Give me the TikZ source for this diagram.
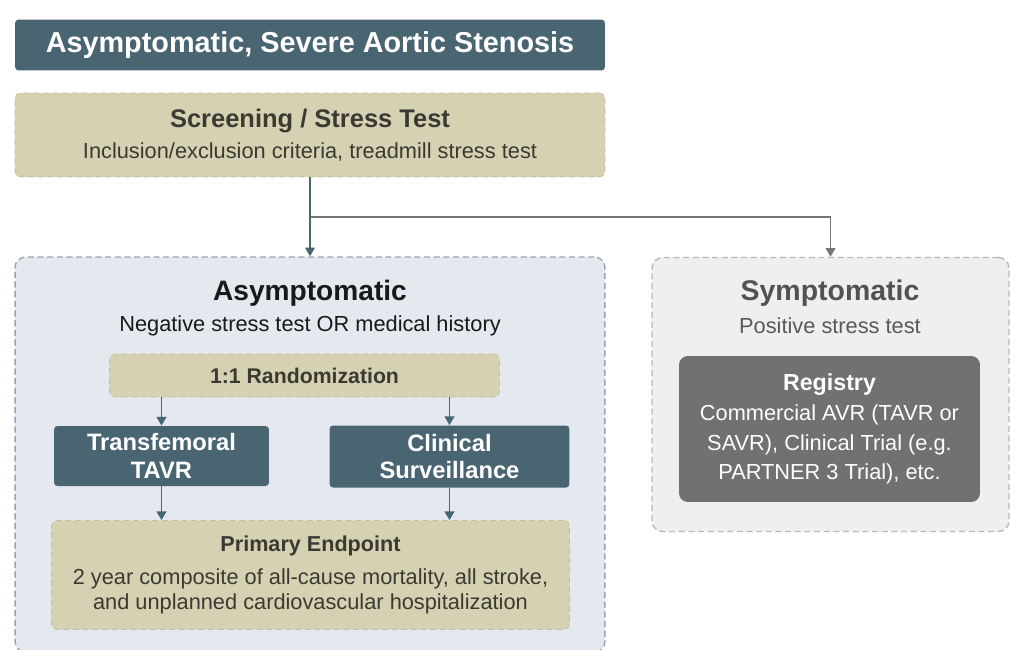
\documentclass[tikz,border=0pt]{standalone}
\usepackage{fontspec}
\setmainfont{Liberation Sans}
\usetikzlibrary{arrows.meta, positioning}
\definecolor{slateblue}{RGB}{74, 101, 114}
\definecolor{sandtan}{RGB}{214, 209, 178}
\definecolor{sandedge}{RGB}{196, 190, 156}
\definecolor{paleblue}{RGB}{228, 233, 239}
\definecolor{paleedge}{RGB}{150, 165, 178}
\definecolor{palegray}{RGB}{239, 239, 239}
\definecolor{grayedge}{RGB}{185, 185, 185}
\definecolor{midgray}{RGB}{113, 113, 113}
\definecolor{linegray}{RGB}{118, 118, 118}
\definecolor{darktext}{RGB}{58, 58, 50}

\begin{document}
\begin{tikzpicture}[
    x=0.02cm, y=-0.02cm,
    header/.style={fill=slateblue, rounded corners=2pt, text=white, align=center,
                   inner sep=0pt, font=\fontsize{13.5}{15.5}\selectfont\bfseries},
    sandbox/.style={fill=sandtan, draw=sandedge, dash pattern=on 3.5pt off 2pt,
                    rounded corners=3pt, text=darktext, align=center, inner sep=0pt},
    group/.style={dash pattern=on 3.5pt off 2pt, line width=0.8pt, rounded corners=6pt, inner sep=0pt},
    arrow/.style={-{Triangle[width=5.5pt, length=5pt]}, line width=1.1pt, slateblue}
]
    \useasboundingbox (0,0) rectangle (1024,649);

    % top of the flow
    \node[header, minimum width=11.8cm, minimum height=1.02cm,
          font=\fontsize{16.4}{19}\selectfont\bfseries] (title) at (310,45)
          {Asymptomatic, Severe Aortic Stenosis};
    \node[sandbox, minimum width=11.8cm, minimum height=1.68cm,
          font=\fontsize{12.4}{18}\selectfont] (screen) at (310,135)
          {{\fontsize{14.5}{18}\selectfont\bfseries Screening / Stress Test}\\
           Inclusion/exclusion criteria, treadmill stress test};

    % the two groups
    \node[group, draw=paleedge, fill=paleblue, minimum width=11.8cm, minimum height=7.9cm] (asym) at (310,454.5) {};
    \node[group, draw=grayedge, fill=palegray, minimum width=7.14cm, minimum height=5.48cm] (sympt) at (830.5,394.5) {};

    \node[font=\fontsize{16}{19}\selectfont\bfseries, text=black!90] (asymhead) at (310,293) {Asymptomatic};
    \node[font=\fontsize{12.4}{15}\selectfont, text=black!90] (asymsub) at (310,326) {Negative stress test OR medical history};
    \node[font=\fontsize{16.2}{19}\selectfont\bfseries, text=black!68] (symphead) at (830,293) {Symptomatic};
    \node[font=\fontsize{12.4}{15}\selectfont, text=black!65] (sympsub) at (830,326) {Positive stress test};

    % randomized arm
    \node[sandbox, minimum width=7.8cm, minimum height=0.86cm,
          font=\fontsize{12.1}{14}\selectfont\bfseries] (rand) at (304.5,375.5) {1:1 Randomization};
    \node[header, minimum width=4.3cm, minimum height=1.2cm] (tavr) at (161.5,456) {Transfemoral\\TAVR};
    \node[header, minimum width=4.8cm, minimum height=1.24cm] (surv) at (449.5,456.5) {Clinical\\Surveillance};
    \node[sandbox, minimum width=10.36cm, minimum height=2.18cm,
          font=\fontsize{12.4}{14.5}\selectfont] (endpoint) at (310.5,575)
          {{\fontsize{12.3}{14.5}\selectfont\bfseries Primary Endpoint}\\[4pt]
           2 year composite of all-cause mortality, all stroke,\\
           and unplanned cardiovascular hospitalization};

    % registry arm
    \node[fill=midgray, rounded corners=5pt, text=white, align=center, inner sep=0pt,
          minimum width=6.02cm, minimum height=2.92cm,
          font=\fontsize{12.4}{17}\selectfont] (registry) at (829.5,429)
          {{\fontsize{13.2}{17}\selectfont\bfseries Registry}\\
           Commercial AVR (TAVR or\\
           SAVR), Clinical Trial (e.g.\\
           PARTNER 3 Trial), etc.};

    \coordinate (split) at (310,217);
    \draw[arrow, linegray] (split) -| (sympt.north);
    \draw[arrow] (screen.south) -- (asym.north);
    \draw[arrow] (rand.south -| tavr.north) -- (tavr.north);
    \draw[arrow] (rand.south -| surv.north) -- (surv.north);
    \draw[arrow] (tavr.south) -- (tavr.south |- endpoint.north);
    \draw[arrow] (surv.south) -- (surv.south |- endpoint.north);
\end{tikzpicture}
\end{document}
